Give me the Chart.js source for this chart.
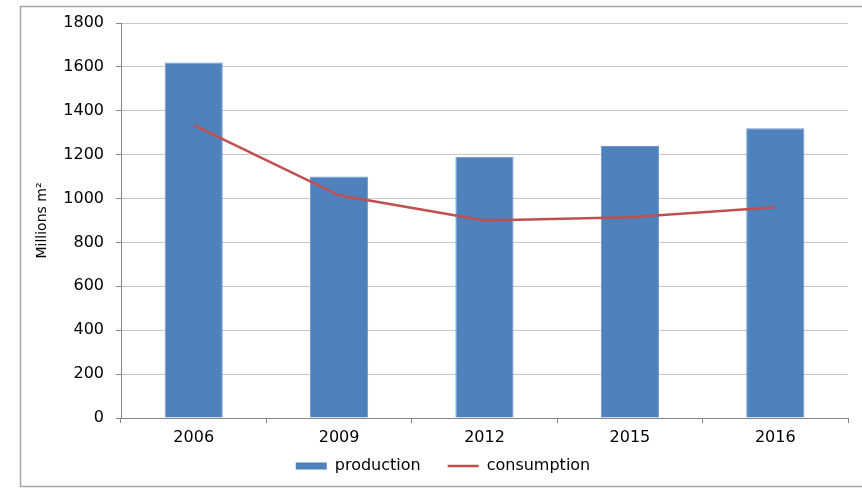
<!DOCTYPE html>
<html><head><meta charset="utf-8">
<script src="https://cdn.jsdelivr.net/npm/chart.js@4/dist/chart.umd.min.js"></script>
<style>html,body{margin:0;padding:0;background:#fff}#wrap{position:relative;width:862px;height:488px}</style>
</head><body><div id="wrap"><canvas id="c"></canvas></div>
<script>
const categories = ["2006", "2009", "2012", "2015", "2016"];
const production = [1620, 1100, 1190, 1240, 1320];
const consumption = [1335, 1015, 900, 915, 960];
const yTicks = [0, 200, 400, 600, 800, 1000, 1200, 1400, 1600, 1800];

const framePlugin = {
  id: 'frame',
  afterLayout(chart) {
    // let x tick labels draw below the (shortened) x-axis box
    chart.scales.x._computeLabelArea = () => undefined;
    if (chart.legend) { chart.legend.left += 8; chart.legend.right += 8; }
  },
  beforeDraw(chart) {
    const ctx = chart.ctx;
    ctx.save();
    ctx.strokeStyle = '#a6a6a6';
    ctx.lineWidth = 1.5;
    ctx.strokeRect(20.5, 6.5, 860, 480);
    ctx.restore();
  }
};

new Chart(document.getElementById('c'), {
  type: 'bar',
  data: {
    labels: categories,
    datasets: [
      { type: 'line', label: 'consumption', data: consumption, borderColor: '#C0504D', backgroundColor: '#C0504D',
        borderWidth: 2.5, pointRadius: 0, tension: 0, order: 0 },
      { type: 'bar', label: 'production', data: production, backgroundColor: '#4F81BD', borderColor: '#6a96cb', borderWidth: {top:1,left:1,right:1,bottom:0},
        barPercentage: 0.4, categoryPercentage: 1.0, order: 1 }
    ]
  },
  options: {
    responsive: true, maintainAspectRatio: false, animation: false,
    layout: { padding: { left: 22, right: 14, top: 23, bottom: 4 } },
    plugins: {
      tooltip: { enabled: false },
      legend: {
        position: 'bottom', reverse: true,
        labels: {
          color: '#000', font: { family: 'DejaVu Sans', size: 16 },
          usePointStyle: true, pointStyleWidth: 31, boxHeight: 7, padding: 27,
          generateLabels(chart) {
            return chart.data.datasets.map((ds, i) => ({
              text: ds.label, fillStyle: ds.backgroundColor, strokeStyle: ds.type === 'line' ? ds.borderColor : ds.backgroundColor,
              lineWidth: ds.type === 'line' ? 2.5 : 0, pointStyle: ds.type === 'line' ? 'line' : 'rect', datasetIndex: i, hidden: false
            }));
          }
        }
      }
    },
    scales: {
      x: {
        grid: { display: true, drawOnChartArea: false, tickLength: 5, color: '#868686', offset: true },
        border: { color: '#868686' },
        ticks: { color: '#000', font: { family: 'DejaVu Sans', size: 16 }, padding: 5 },
        afterFit(s) { s.height = 13; }
      },
      y: {
        min: 0, max: 1800,
        afterBuildTicks(s) { s.ticks = yTicks.map(v => ({ value: v })); },
        grid: { color: '#c8c8c8', tickLength: 5, tickColor: '#868686' },
        border: { color: '#868686' },
        ticks: { color: '#000', font: { family: 'DejaVu Sans', size: 16 }, padding: 12, callback: v => String(v) },
        title: { display: true, text: 'Millions m²', color: '#000', font: { family: 'DejaVu Sans', size: 14 }, padding: { top: 12, bottom: 0 } },
        afterFit(s) { s.width = 99; }
      }
    }
  },
  plugins: [framePlugin]
});
</script></body></html>
